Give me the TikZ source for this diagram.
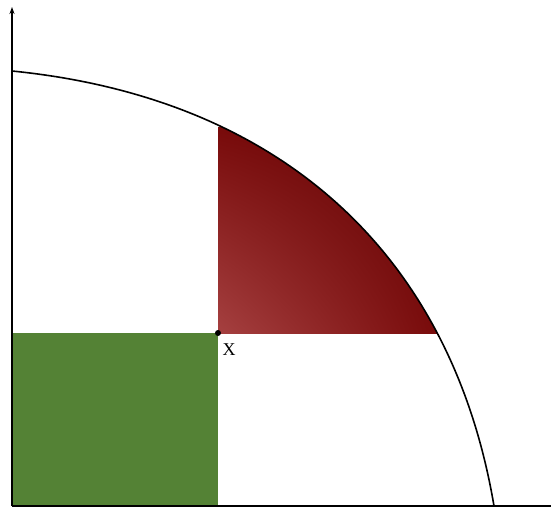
\documentclass[tikz,border=0pt]{standalone}
\usepackage{fontspec}
\setmainfont{Liberation Serif}
\usetikzlibrary{arrows.meta,shadings}
\definecolor{greenfill}{RGB}{84,130,53}
\definecolor{redlight}{RGB}{165,64,64}
\definecolor{redmid}{RGB}{120,10,10}
\definecolor{reddark}{RGB}{96,0,0}
\tikzset{
  axisline/.style={line width=1.2pt, black},
  arcline/.style={line width=1.6pt, black},
  labeltext/.style={font={\fontsize{18pt}{18pt}\selectfont}, inner sep=0pt},
}
\begin{document}
\begin{tikzpicture}[x=1pt,y=-1pt]
\useasboundingbox (0,0) rectangle (551,511);
% green rectangle
\fill[greenfill] (12,333) rectangle (218,506);
% red shaded region
\begin{scope}
  \clip (12,506) -- (12,71) .. controls (282,98) and (451.5,255) .. (494,506) -- cycle;
  \clip (218,0) rectangle (551,333);
  \shade[lower left=redlight, upper left=redmid, lower right=redmid, upper right=reddark]
    (218,127) rectangle (441,333);
\end{scope}
% arc
\draw[arcline] (12,71) .. controls (282,98) and (451.5,255) .. (494,506);
% axes
\coordinate (O) at (12,506);
\coordinate (ytop) at (12,7);
\coordinate (xend) at (551,506);
\draw[axisline, -{Stealth[length=7pt,width=5pt]}] (O) -- (ytop);
\draw[axisline] (O) -- (xend);
% point X
\fill (218,333) circle (3pt);
\node[labeltext] (xlab) at (229,350) {X};
\end{tikzpicture}
\end{document}
